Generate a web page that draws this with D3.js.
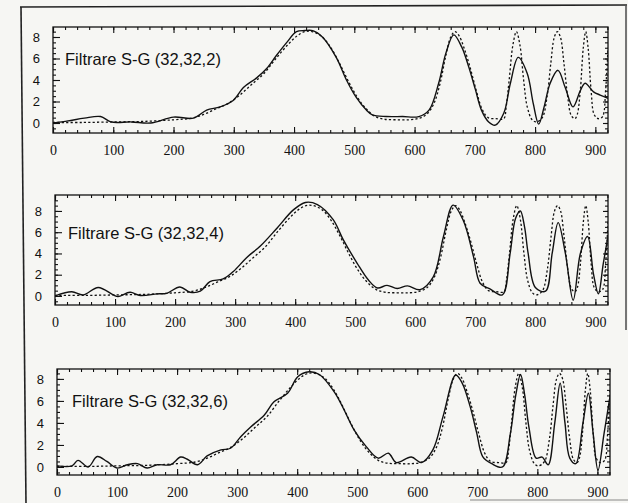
<!DOCTYPE html>
<html>
<head>
<meta charset="utf-8">
<script src="https://cdn.jsdelivr.net/npm/d3@7"></script>
<style>
  html, body { margin: 0; padding: 0; background: #f6f6f3; }
  svg { display: block; }
</style>
</head>
<body>
<svg id="chart" width="628" height="503"></svg>
<script>
// ---------- DATA ----------
const xTicks = [0, 100, 200, 300, 400, 500, 600, 700, 800, 900];
const yTicks = [0, 2, 4, 6, 8];
const panelTitles = ["Filtrare S-G (32,32,2)", "Filtrare S-G (32,32,4)", "Filtrare S-G (32,32,6)"];

// reference (dashed) spectrum
const refX = [0, 50, 100, 150, 200, 230, 250, 270, 290, 310, 330, 350, 370, 390, 405, 418, 430, 445, 460, 475, 490, 505, 520, 535, 550, 570, 590, 605, 620, 632, 642, 652, 660, 667, 674, 682, 692, 702, 712, 722, 735, 748, 752, 757, 763, 769, 775, 781, 787, 795, 802, 812, 820, 826, 832, 837, 842, 848, 854, 860, 866, 870, 875, 880, 884, 888, 893, 898, 905, 912, 917, 921];
const refY = [0.05, 0.05, 0.1, 0.15, 0.3, 0.45, 0.8, 1.3, 1.8, 2.6, 3.6, 4.6, 6.0, 7.3, 8.1, 8.5, 8.5, 8.1, 7.1, 5.6, 3.9, 2.4, 1.3, 0.6, 0.35, 0.3, 0.3, 0.4, 0.8, 1.8, 3.6, 6.3, 8.0, 8.5, 8.1, 7.0, 5.2, 3.1, 1.3, 0.5, 0.4, 0.4, 1.5, 4.0, 7.2, 8.5, 7.2, 4.0, 1.5, 0.3, 0.1, 0.5, 2.5, 5.5, 8.0, 8.5, 8.0, 5.5, 2.5, 0.7, 0.4, 0.8, 3.0, 7.0, 8.5, 7.0, 3.0, 0.8, 0.4, 0.6, 3.0, 7.0];

// filtered (solid) S-G (32,32,2)
const sg2X = [0, 25, 52, 79, 96, 130, 162, 200, 233, 255, 277, 299, 316, 338, 355, 371, 388, 404, 418, 431, 447, 470, 487, 503, 520, 530, 553, 580, 607, 624, 640, 652, 665, 678, 690, 701, 711, 723, 734, 748, 759, 772, 787, 797, 806, 815, 825, 838, 850, 863, 875, 883, 897, 908, 921];
const sg2Y = [0.0, 0.2, 0.45, 0.6, 0.1, 0.1, 0.0, 0.55, 0.45, 1.2, 1.5, 2.1, 3.3, 4.2, 5.1, 6.3, 7.5, 8.5, 8.6, 8.6, 8.0, 6.1, 4.0, 2.4, 1.2, 0.75, 0.6, 0.6, 0.6, 1.2, 3.7, 6.5, 8.2, 7.1, 5.2, 3.1, 1.2, 0.1, -0.2, 0.9, 3.7, 6.1, 4.6, 1.8, -0.1, 1.5, 3.7, 4.9, 3.3, 1.5, 3.0, 3.7, 2.9, 2.6, 2.3];

// filtered (solid) S-G (32,32,4)
const sg4X = [0, 28, 47, 72, 97, 105, 125, 142, 170, 186, 208, 225, 242, 258, 280, 297, 319, 342, 370, 397, 417, 437, 463, 480, 503, 522, 537, 553, 570, 587, 608, 630, 647, 663, 680, 697, 708, 725, 745, 758, 767, 775, 782, 788, 800, 817, 828, 838, 850, 863, 875, 887, 897, 905, 913, 921];
const sg4Y = [0, 0.4, 0.1, 0.8, 0.1, -0.05, 0.35, 0.05, 0.2, 0.25, 0.85, 0.35, 0.45, 1.35, 1.6, 2.3, 3.6, 4.7, 6.4, 8.1, 8.8, 8.6, 7.2, 5.3, 3.1, 1.5, 0.75, 1.0, 0.7, 0.95, 0.6, 1.8, 5.6, 8.55, 7.1, 3.7, 1.2, 0.65, 0.1, 4.0, 7.3, 8.0, 6.5, 4.0, 0.8, 0.45, 4.0, 6.9, 4.0, -0.4, 4.0, 5.6, 2.0, 0.2, 3.0, 5.6];

// filtered (solid) S-G (32,32,6)
const sg6X = [0, 25, 35, 52, 67, 83, 100, 117, 134, 150, 167, 189, 206, 217, 234, 250, 273, 289, 306, 323, 345, 361, 384, 401, 420, 437, 462, 478, 495, 515, 535, 552, 565, 590, 607, 626, 643, 664, 675, 688, 699, 709, 724, 742, 755, 764, 772, 779, 786, 798, 808, 818, 829, 838, 846, 854, 864, 876, 885, 893, 901, 911, 921];
const sg6Y = [0.1, 0.1, 0.6, 0, 0.95, 0.5, -0.1, 0.2, 0.3, -0.1, 0.2, 0.2, 0.9, 0.7, 0.2, 1.0, 1.55, 1.7, 2.75, 3.65, 4.7, 5.9, 6.7, 8.2, 8.65, 8.4, 6.8, 5.2, 3.35, 1.85, 0.8, 1.25, 0.4, 0.9, 0.4, 1.55, 4.6, 8.35, 7.6, 5.5, 3.1, 0.95, 0.3, 0.0, 3.0, 6.5, 8.4, 6.5, 3.6, 0.8, 0.9, 0.2, 4.0, 7.6, 4.0, 0.8, 0.3, 4.0, 6.7, 3.0, -0.3, 3.0, 6.4];

const filteredX = [sg2X, sg4X, sg6X];
const filteredY = [sg2Y, sg4Y, sg6Y];

// ---------- LAYOUT ----------
const layout = [
  { left: 53, right: 608, top: 27, bottom: 133, yMin: -0.93, yMax: 8.93, titleX: 65, titleY: 65 },
  { left: 55, right: 608, top: 195, bottom: 305, yMin: -0.85, yMax: 9.5, titleX: 68, titleY: 239 },
  { left: 57, right: 610, top: 369, bottom: 475, yMin: -0.73, yMax: 8.9, titleX: 72, titleY: 407 }
];
const xDomain = [0, 921];

const svg = d3.select("#chart");

// outer scanned frame
const frame = svg.append("g").attr("fill", "none").attr("stroke", "#222").attr("stroke-width", 1.6);
frame.append("line").attr("x1", 20).attr("y1", 7).attr("x2", 627).attr("y2", 5);
frame.append("line").attr("x1", 21).attr("y1", 7).attr("x2", 26).attr("y2", 503);
frame.append("line").attr("x1", 626).attr("y1", 5).attr("x2", 626).attr("y2", 330).attr("stroke", "#555");
svg.append("line").attr("x1", 470).attr("y1", 500).attr("x2", 628).attr("y2", 500)
  .attr("stroke", "#888").attr("stroke-width", 1.2);

layout.forEach((L, i) => {
  const x = d3.scaleLinear().domain(xDomain).range([L.left, L.right]);
  const y = d3.scaleLinear().domain([L.yMin, L.yMax]).range([L.bottom, L.top]);
  const g = svg.append("g");

  const clipId = "clip" + i;
  svg.append("clipPath").attr("id", clipId).append("rect")
    .attr("x", L.left).attr("y", L.top).attr("width", L.right - L.left).attr("height", L.bottom - L.top);

  const xMinor = d3.range(0, 921, 20);
  const yMinor = d3.range(-0.5, L.yMax, 0.5);

  // bottom axis (inward ticks)
  const bottomMinor = d3.axisBottom(x).tickValues(xMinor).tickSize(-3).tickFormat("");
  const bottomMajor = d3.axisBottom(x).tickValues(xTicks).tickSize(-6).tickPadding(12);
  const topMinor = d3.axisTop(x).tickValues(xMinor).tickSize(-3).tickFormat("");
  const topMajor = d3.axisTop(x).tickValues(xTicks).tickSize(-6).tickFormat("");
  const leftMinor = d3.axisLeft(y).tickValues(yMinor).tickSize(-3).tickFormat("");
  const leftMajor = d3.axisLeft(y).tickValues(yTicks).tickSize(-7).tickPadding(13);
  const rightMinor = d3.axisRight(y).tickValues(yMinor).tickSize(-3).tickFormat("");
  const rightMajor = d3.axisRight(y).tickValues(yTicks).tickSize(-5).tickFormat("");

  const ax = (axis, tx, ty) => g.append("g").attr("transform", `translate(${tx},${ty})`).call(axis);
  const gb1 = ax(bottomMinor, 0, L.bottom);
  const gb2 = ax(bottomMajor, 0, L.bottom);
  ax(topMinor, 0, L.top); ax(topMajor, 0, L.top);
  ax(leftMinor, L.left, 0);
  const gl = ax(leftMajor, L.left, 0);
  ax(rightMinor, L.right, 0); ax(rightMajor, L.right, 0);

  g.selectAll(".domain").remove();
  g.selectAll(".tick line").attr("stroke", "#111").attr("stroke-width", 1.1);
  gb2.selectAll("text").attr("font-family", "'Liberation Serif', 'DejaVu Serif', serif")
    .attr("font-size", 14).attr("fill", "#111");
  gl.selectAll("text").attr("font-family", "'Liberation Sans', Arial, sans-serif")
    .attr("font-size", 13).attr("fill", "#111");

  // plot frame
  g.append("rect").attr("x", L.left).attr("y", L.top)
    .attr("width", L.right - L.left).attr("height", L.bottom - L.top)
    .attr("fill", "none").attr("stroke", "#111").attr("stroke-width", 1.3);

  const line = d3.line().x(d => x(d[0])).y(d => y(d[1])).curve(d3.curveCatmullRom.alpha(0.5));

  const ref = refX.map((v, k) => [v, refY[k]]);
  g.append("path").attr("d", line(ref)).attr("clip-path", `url(#${clipId})`)
    .attr("fill", "none").attr("stroke", "#111").attr("stroke-width", 1.3)
    .attr("stroke-dasharray", "2.2,2.2");

  const fx = filteredX[i], fy = filteredY[i];
  const filt = fx.map((v, k) => [v, fy[k]]);
  g.append("path").attr("d", line(filt)).attr("clip-path", `url(#${clipId})`)
    .attr("fill", "none").attr("stroke", "#111").attr("stroke-width", 1.4);

  g.append("text").attr("x", L.titleX).attr("y", L.titleY)
    .attr("font-family", "'Liberation Sans', Arial, sans-serif").attr("font-size", 16.5)
    .attr("fill", "#111").text(panelTitles[i]);
});
</script>
</body>
</html>
